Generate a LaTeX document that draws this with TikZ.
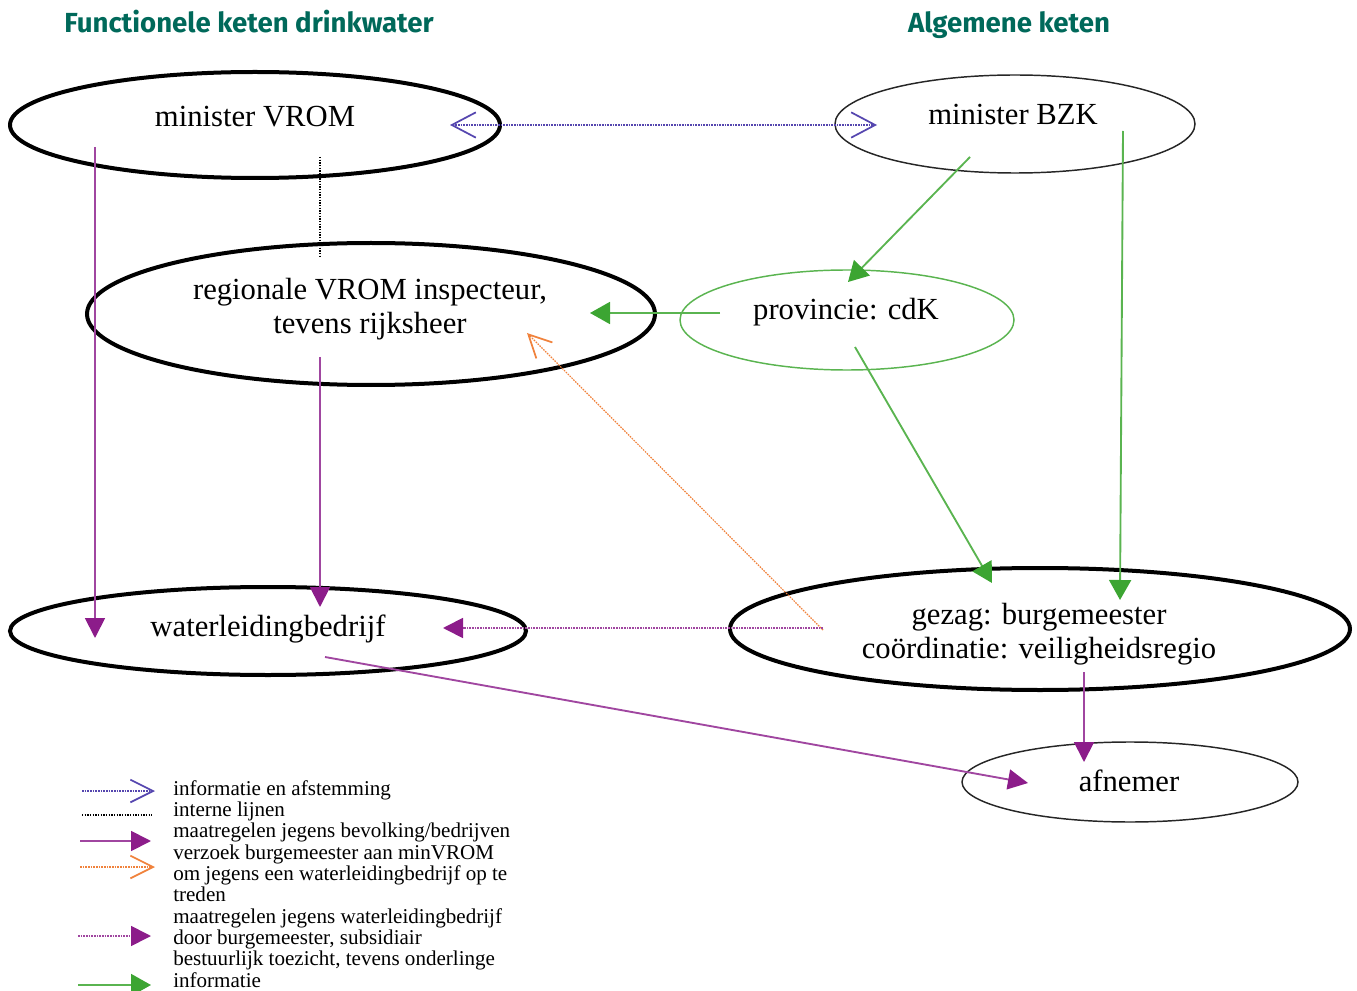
\documentclass[tikz,border=0pt]{standalone}
\usepackage{fontspec}
\setmainfont{Liberation Serif}
\newfontfamily\titlefont{Fira Sans}
\usetikzlibrary{arrows.meta,shapes.geometric,calc}
\definecolor{teal1}{RGB}{0,105,90}
\definecolor{purp}{RGB}{140,28,138}
\definecolor{purpl}{RGB}{160,70,160}
\definecolor{grn}{RGB}{60,165,50}
\definecolor{grnl}{RGB}{90,180,80}
\definecolor{blu}{RGB}{85,70,175}
\definecolor{orng}{RGB}{240,130,60}
\tikzset{
  ellthick/.style={ellipse, draw=black, line width=3pt, inner sep=0pt},
  ellthin/.style={ellipse, draw=black!85, line width=1.1pt, inner sep=0pt},
  ellgreen/.style={ellipse, draw=grnl, line width=1.1pt, inner sep=0pt},
  lbl/.style={font=\fontsize{23}{25.5}\selectfont, align=center, inner sep=0pt},
  ttl/.style={font=\titlefont\bfseries\fontsize{20.7}{24}\selectfont, text=teal1, inner sep=0pt, anchor=base},
  infoarrow/.style={draw=blu, line width=1pt, dash pattern=on 1.2pt off 0.8pt, {Straight Barb[length=18pt,width=19pt,line width=1.3pt]}-{Straight Barb[length=18pt,width=19pt,line width=1.3pt]}},
  infoarrowone/.style={draw=blu, line width=1pt, dash pattern=on 1.2pt off 0.8pt, -{Straight Barb[length=17pt,width=17pt,line width=1.3pt]}},
  internal/.style={draw=black, line width=1pt, dash pattern=on 1pt off 1pt},
  measure/.style={draw=purpl, line width=1.4pt, -{Triangle[length=15pt,width=15pt,color=purp]}},
  measuredot/.style={draw=purpl, line width=1.3pt, dash pattern=on 1.2pt off 0.8pt, -{Triangle[length=15pt,width=15pt,color=purp]}},
  request/.style={draw=orng, line width=0.9pt, dash pattern=on 1.2pt off 0.8pt, -{Straight Barb[length=17pt,width=17pt,line width=1.3pt]}},
  greenarrow/.style={draw=grnl, line width=1.4pt, -{Triangle[length=15pt,width=16.5pt,color=grn]}},
  legtext/.style={font=\fontsize{15.8}{16}\selectfont, align=left, inner sep=0pt, anchor=north west}
}
\begin{document}
\begin{tikzpicture}[x=0.75pt,y=-0.75pt]
\useasboundingbox (0,0) rectangle (1357,991);
% titles
\node[ttl] (t1) at (249,33) {Functionele keten drinkwater};
\node[ttl] (t2) at (1009,33) {Algemene keten};
% ellipses
\node[ellthick, minimum width=367.5pt, minimum height=79.5pt] (vrom) at (255,125) {};
\node[lbl] (vromt) at (255,117) {minister VROM};
\node[ellthin, minimum width=270pt, minimum height=73.5pt] (bzk) at (1015,124) {};
\node[lbl] (bzkt) at (1013,114) {minister BZK};
\node[ellthick, minimum width=426pt, minimum height=106.5pt] (reg) at (371,314) {};
\node[lbl] (regt) at (370,309) {regionale VROM inspecteur,\\tevens rijksheer};
\node[ellgreen, minimum width=250.5pt, minimum height=75pt] (prov) at (847,320) {};
\node[lbl] (provt) at (846,312) {provincie: cdK};
\node[ellthick, minimum width=387pt, minimum height=66pt] (wlb) at (268,631) {};
\node[lbl] (wlbt) at (268,629) {waterleidingbedrijf};
\node[ellthick, minimum width=465pt, minimum height=91.5pt] (gez) at (1040,629) {};
\node[lbl] (gezt) at (1039,634) {gezag: burgemeester\\coördinatie: veiligheidsregio};
\node[ellthin, minimum width=252pt, minimum height=60pt] (afn) at (1130,782) {};
\node[lbl] (afnt) at (1129,781) {afnemer};
% connectors
\draw[infoarrow] ($(vrom)+(195,0)$) -- ($(bzk)+(-138,1)$);
\draw[internal] ($(vrom)+(65,32)$) -- ($(reg)+(-51,-56)$);
\draw[measure] ($(vrom)+(-160,22)$) -- ($(wlb)+(-173,7)$);
\draw[measure] ($(reg)+(-51,43)$) -- ($(wlb)+(52,-24)$);
\draw[greenarrow] ($(bzk)+(-45,33)$) -- ($(prov)+(1,-38)$);
\draw[greenarrow] ($(bzk)+(108,7)$) -- ($(gez)+(80,-29)$);
\draw[greenarrow] ($(prov)+(-127,-7)$) -- ($(reg)+(219,-1)$);
\draw[greenarrow] ($(prov)+(8,27)$) -- ($(gez)+(-48,-46)$);
\draw[request] ($(gez)+(-217,1)$) -- ($(reg)+(156,19)$);
\draw[measuredot] ($(gez)+(-217,-1)$) -- ($(wlb)+(175,-3)$);
\draw[measure] ($(wlb)+(57,26)$) -- ($(afn)+(-102,1)$);
\draw[measure] ($(gez)+(44,43)$) -- ($(afn)+(-46,-20)$);
% legend
\coordinate (l1a) at (82,791); \coordinate (l1b) at (155,791);
\coordinate (l2a) at (82,815); \coordinate (l2b) at (152,815);
\coordinate (l3a) at (80,841); \coordinate (l3b) at (151,841);
\coordinate (l4a) at (80,867); \coordinate (l4b) at (155,867);
\coordinate (l5a) at (78,936); \coordinate (l5b) at (151,936);
\coordinate (l6a) at (78,985); \coordinate (l6b) at (151,985);
\draw[infoarrowone] (l1a) -- (l1b);
\draw[internal] (l2a) -- (l2b);
\draw[measure] (l3a) -- (l3b);
\draw[request] (l4a) -- (l4b);
\draw[measuredot] (l5a) -- (l5b);
\draw[greenarrow] (l6a) -- (l6b);
\node[legtext] (leg) at (173,780) {informatie en afstemming\\interne lijnen\\maatregelen jegens bevolking/bedrijven\\verzoek burgemeester aan minVROM\\om jegens een waterleidingbedrijf op te\\treden\\maatregelen jegens waterleidingbedrijf\\door burgemeester, subsidiair\\bestuurlijk toezicht, tevens onderlinge\\informatie};
\end{tikzpicture}
\end{document}
